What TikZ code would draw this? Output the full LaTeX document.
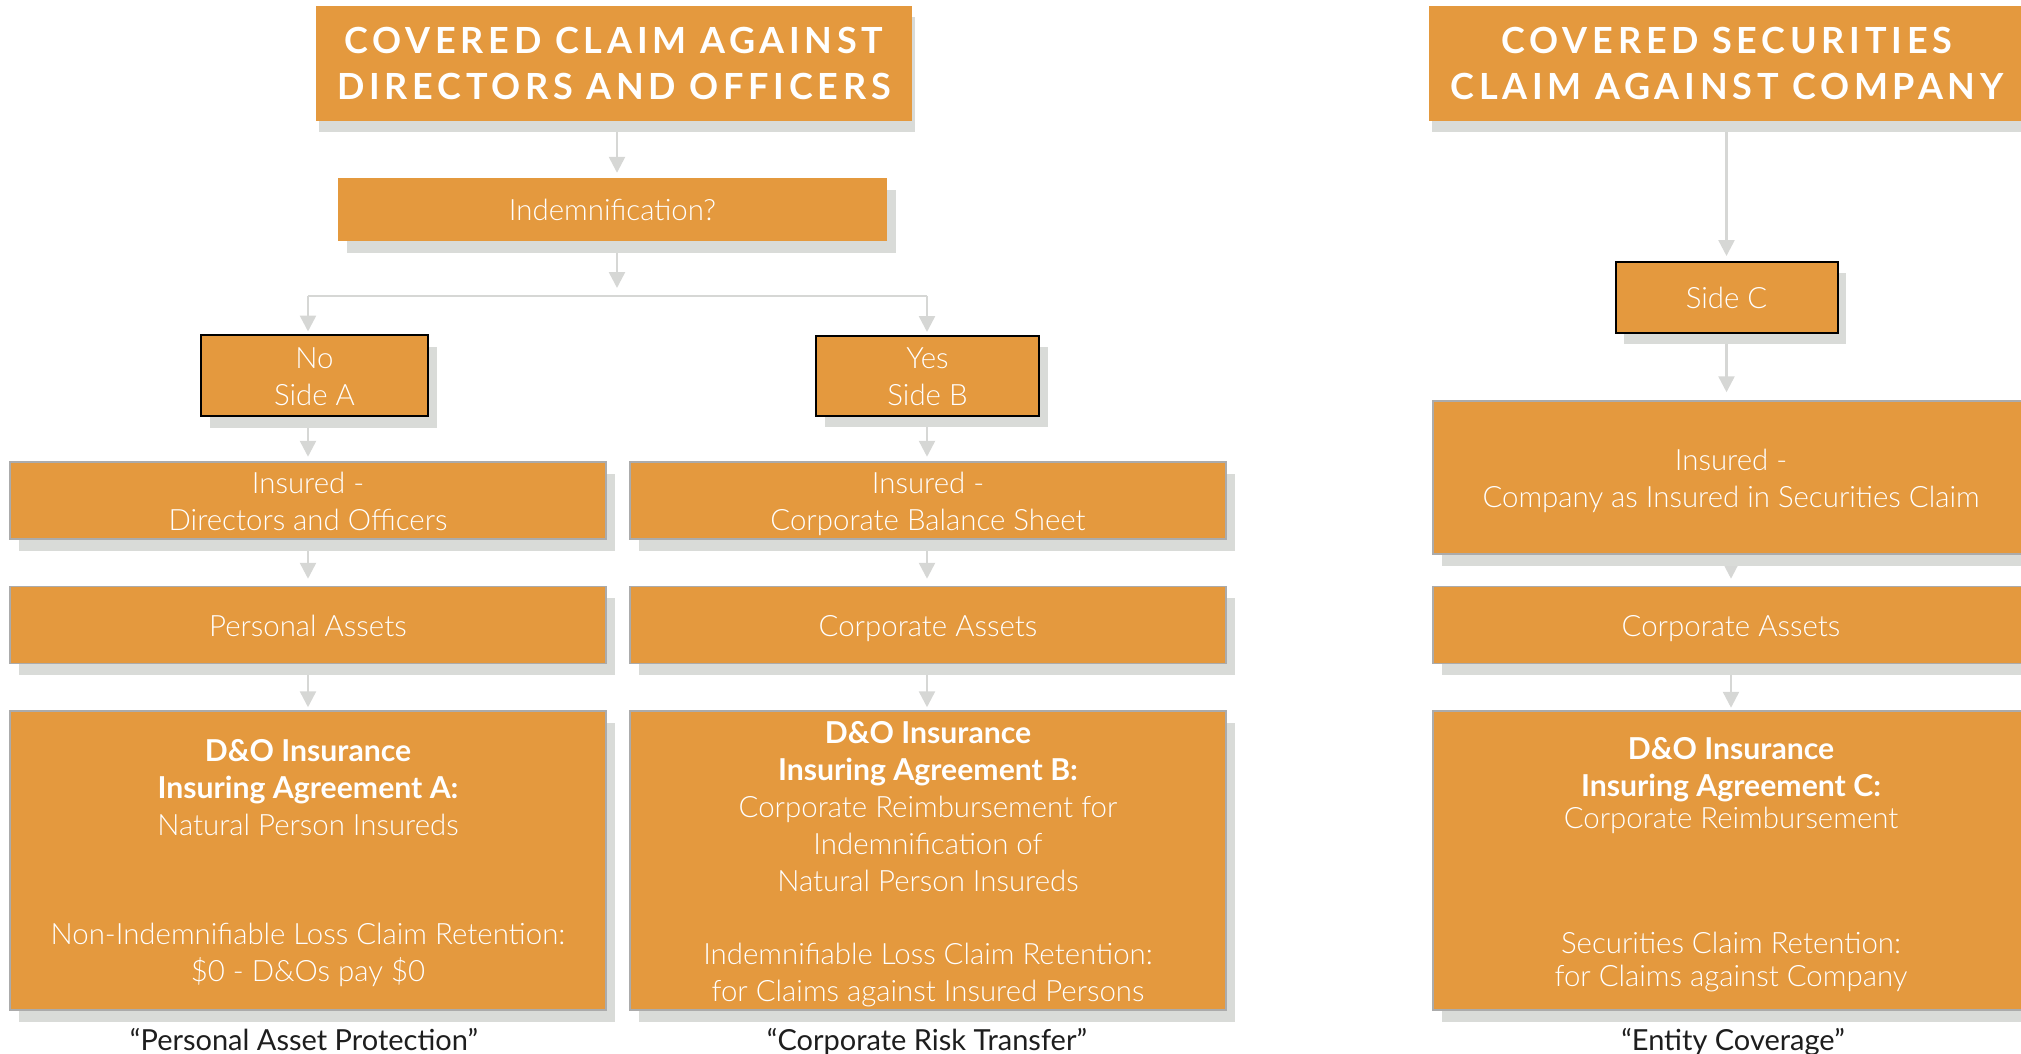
\documentclass[tikz,border=0pt]{standalone}
\usepackage{fontspec}
\setmainfont{Lato}[UprightFont=* Light,BoldFont=* Bold]
\newfontfamily\capfont{Lato}
\newfontfamily\ttlfont{Lato}[UprightFont=* Bold,LetterSpace=13.2]
\usetikzlibrary{arrows.meta,shadows}
\pgfdeclarelayer{bg}
\pgfsetlayers{bg,main}
\definecolor{dorange}{HTML}{E4993E}
\definecolor{shadowgray}{HTML}{D9DBD8}
\definecolor{arrowgray}{HTML}{D6D7D5}
\definecolor{edgegray}{HTML}{ABABAB}
\definecolor{captext}{HTML}{1E1E1E}
\newcommand\bdfont{\fontsize{29.4}{37}\selectfont}
\newcommand\bfline[1]{{\bfseries\fontsize{30.2}{37}\selectfont #1}}
\newcommand\botstrut{\rule[-7pt]{0pt}{7pt}}
\tikzset{
  base/.style={rectangle, fill=dorange, text=white, inner sep=0pt, align=center, font=\bdfont},
  bodytxt/.style={execute at begin node={\rule{0pt}{#1}}, execute at end node=\botstrut},
  bodytxt/.default=29pt,
  shd/.style={drop shadow={shadow xshift=8.5pt,shadow yshift=-11.5pt,fill=shadowgray,opacity=1}},
  ttl/.style={base, minimum width=596pt, minimum height=115pt,
    font=\ttlfont\fontsize{36}{46.5}\selectfont,
    drop shadow={shadow xshift=3pt,shadow yshift=-11pt,fill=shadowgray,opacity=1}},
  qbox/.style={base, bodytxt, shd, minimum width=549pt, minimum height=63pt},
  sidebox/.style={base, bodytxt, shd, draw=black, line width=2pt},
  widebox/.style={base, bodytxt, shd, draw=edgegray, line width=1.5pt, minimum width=596pt},
  arr/.style={draw=arrowgray, line width=2.5pt, -{Triangle[width=16pt,length=16pt]}, shorten >=5pt},
  plain/.style={draw=arrowgray, line width=2.5pt},
  captxt/.style={font=\capfont\fontsize{29}{37}\selectfont, text=captext, inner sep=0pt, text height=27pt, text depth=7pt}
}
\begin{document}
\begin{tikzpicture}[x=1pt,y=-1pt]
\useasboundingbox (0,0) rectangle (2021,1054);
\clip (0,0) rectangle (2021,1054);
% titles
\node[ttl] (T1) at (614,63.5) {COVERED CLAIM AGAINST\\DIRECTORS AND OFFICERS};
\node[ttl] (T2) at (1727,63.5) {COVERED SECURITIES\\CLAIM AGAINST COMPANY};
\node[qbox] (IND) at (612.5,209.5) {Indemnification?};
% sides
\node[sidebox, bodytxt=66pt, minimum width=227pt, minimum height=81pt] (NoA) at (314.5,375.5) {No\\Side A};
\node[sidebox, bodytxt=66pt, minimum width=223pt, minimum height=80pt] (YesB) at (927.5,375.5) {Yes\\Side B};
\node[sidebox, minimum width=222pt, minimum height=71pt] (SideC) at (1726.5,297) {Side C};
% insured
\node[widebox, bodytxt=66.5pt, minimum height=77pt] (InsA) at (308,500.5) {Insured -\\Directors and Officers};
\node[widebox, bodytxt=66.5pt, minimum height=77pt] (InsB) at (928,500.5) {Insured -\\Corporate Balance Sheet};
\node[widebox, bodytxt=66.5pt, minimum height=153pt] (InsC) at (1731,477.5) {Insured -\\Company as Insured in Securities Claim};
% assets
\node[widebox, minimum height=77pt] (AssA) at (308,625) {Personal Assets};
\node[widebox, minimum height=77pt] (AssB) at (928,625) {Corporate Assets};
\node[widebox, minimum height=77pt] (AssC) at (1731,625) {Corporate Assets};
% D&O
\node[widebox, bodytxt=249pt, minimum height=299pt] (DOA) at (308,860.5)
  {\bfline{D\&O Insurance}\\\bfline{Insuring Agreement A:}\\Natural Person Insureds\\[72pt]Non-Indemnifiable Loss Claim Retention:\\\$0 - D\&Os pay \$0};
\node[widebox, bodytxt=288pt, minimum height=299pt] (DOB) at (928,860.5)
  {\bfline{D\&O Insurance}\\\bfline{Insuring Agreement B:}\\Corporate Reimbursement for\\Indemnification of\\Natural Person Insureds\\[36pt]Indemnifiable Loss Claim Retention:\\for Claims against Insured Persons};
\node[widebox, bodytxt=258pt, minimum height=299pt] (DOC) at (1731,860.5)
  {\bfline{D\&O Insurance}\\\bfline{Insuring Agreement C:}\\[-5pt]Corporate Reimbursement\\[88pt]Securities Claim Retention:\\[-4pt]for Claims against Company};
% captions
\node[captxt] (capA) at (304,1040.5) {“Personal Asset Protection”};
\node[captxt] (capB) at (927,1040.5) {“Corporate Risk Transfer”};
\node[captxt] (capC) at (1733,1040.5) {“Entity Coverage”};
% connectors
\coordinate (J) at (617,296);
\coordinate (JA) at (308,296);
\coordinate (JB) at (927,296);
\begin{pgfonlayer}{bg}
\draw[arr] (T1.south -| J) -- (IND.north -| J);
\draw[arr, shorten >=8pt] (IND.south -| J) -- (J);
\draw[plain] (JA) -- (JB);
\draw[arr, shorten >=2.5pt] (JA) -- (JA |- NoA.north);
\draw[arr, shorten >=2.5pt] (JB) -- (JB |- YesB.north);
\draw[arr, shorten >=4.5pt] (NoA.south -| JA) -- (InsA.north);
\draw[arr, shorten >=4.5pt] (YesB.south -| JB) -- (JB |- InsB.north);
\draw[arr, shorten >=7pt] (InsA.south) -- (AssA.north);
\draw[arr, shorten >=7pt] (InsB.south -| JB) -- (JB |- AssB.north);
\draw[arr, shorten >=3pt] (AssA.south) -- (DOA.north);
\draw[arr, shorten >=3pt] (AssB.south -| JB) -- (JB |- DOB.north);
\draw[arr, shorten >=4.5pt] (T2.south -| SideC) -- (SideC.north);
\draw[arr, shorten >=8pt] (SideC.south) -- (SideC.south |- InsC.north);
\draw[arr, shorten >=7pt] (InsC.south) -- (AssC.north);
\draw[arr, shorten >=2.5pt] (AssC.south) -- (DOC.north);
\end{pgfonlayer}
\end{tikzpicture}
\end{document}
